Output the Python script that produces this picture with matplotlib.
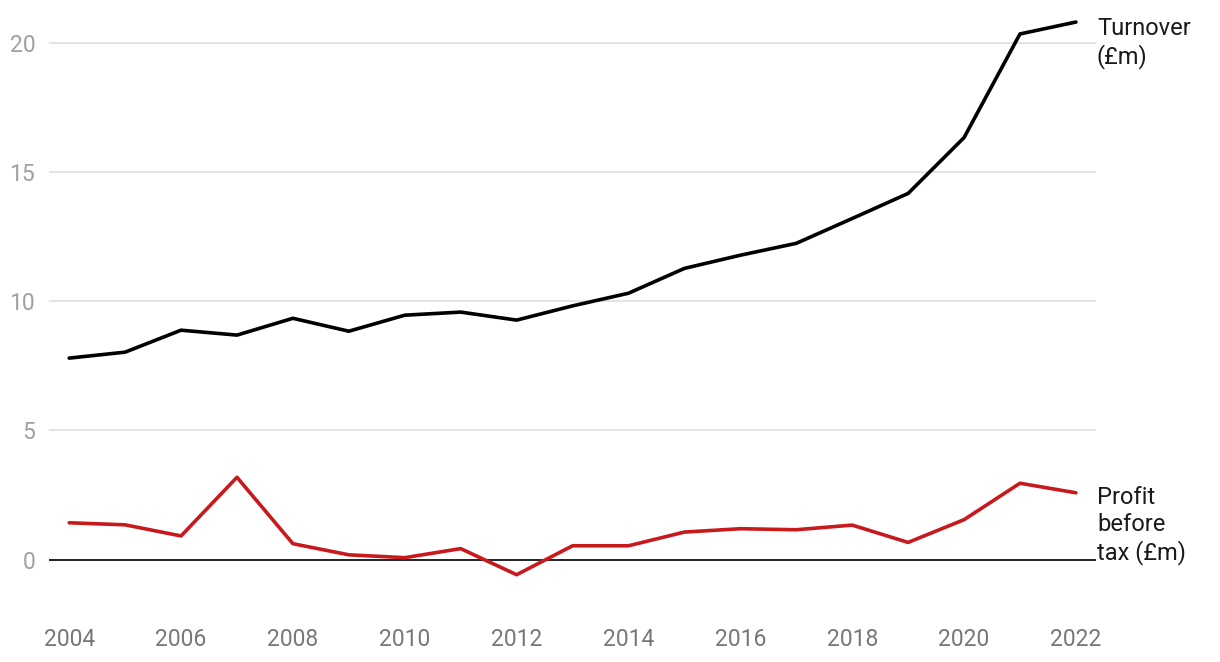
import matplotlib
matplotlib.use('Agg')
import matplotlib.pyplot as plt

years = list(range(2004, 2023))
turnover = [7.8, 8.03, 8.88, 8.69, 9.34, 8.84, 9.46, 9.58, 9.27, 9.82, 10.31,
            11.27, 11.78, 12.24, 13.2, 14.17, 16.33, 20.34, 20.8]
profit = [1.43, 1.35, 0.92, 3.19, 0.62, 0.19, 0.08, 0.43, -0.58, 0.54, 0.54,
          1.07, 1.2, 1.16, 1.34, 0.67, 1.55, 2.96, 2.59]
xticks = list(range(2004, 2023, 2))
yticks = [0, 5, 10, 15, 20]

plt.rcParams['font.family'] = ['Roboto', 'DejaVu Sans']

fig = plt.figure(figsize=(12.2, 6.62), dpi=100)
ax = fig.add_axes([0.0402, 0.0959, 0.8582, 0.8786])

for y in yticks[1:]:
    ax.axhline(y, color='#e2e2e2', lw=1.3, zorder=0)
ax.axhline(0, color='#111111', lw=1.3, zorder=1)

ax.plot(years, turnover, color='#000000', lw=2.6, solid_capstyle='round', zorder=3)
ax.plot(years, profit, color='#c8191c', lw=2.6, solid_capstyle='round', zorder=3)

ax.set_xlim(2003.64, 2022.36)
ax.set_ylim(-1.5, 21)
ax.set_xticks(xticks)
ax.set_yticks(yticks)
ax.tick_params(axis='x', length=0, pad=21, labelsize=16.5, labelcolor='#777777')
ax.tick_params(axis='y', length=0, pad=10, labelsize=16.5, labelcolor='#a0a0a0')
for s in ax.spines.values():
    s.set_visible(False)

ax.text(2022.375, 21.0, 'Turnover\n(£m)', ha='left', va='top', fontsize=17,
        color='#1a1a1a', linespacing=1.22, clip_on=False)
ax.text(2022.375, 2.85, 'Profit\nbefore\ntax (£m)', ha='left', va='top', fontsize=17,
        color='#1a1a1a', linespacing=1.22, clip_on=False)

fig.savefig('out.png', dpi=100)
